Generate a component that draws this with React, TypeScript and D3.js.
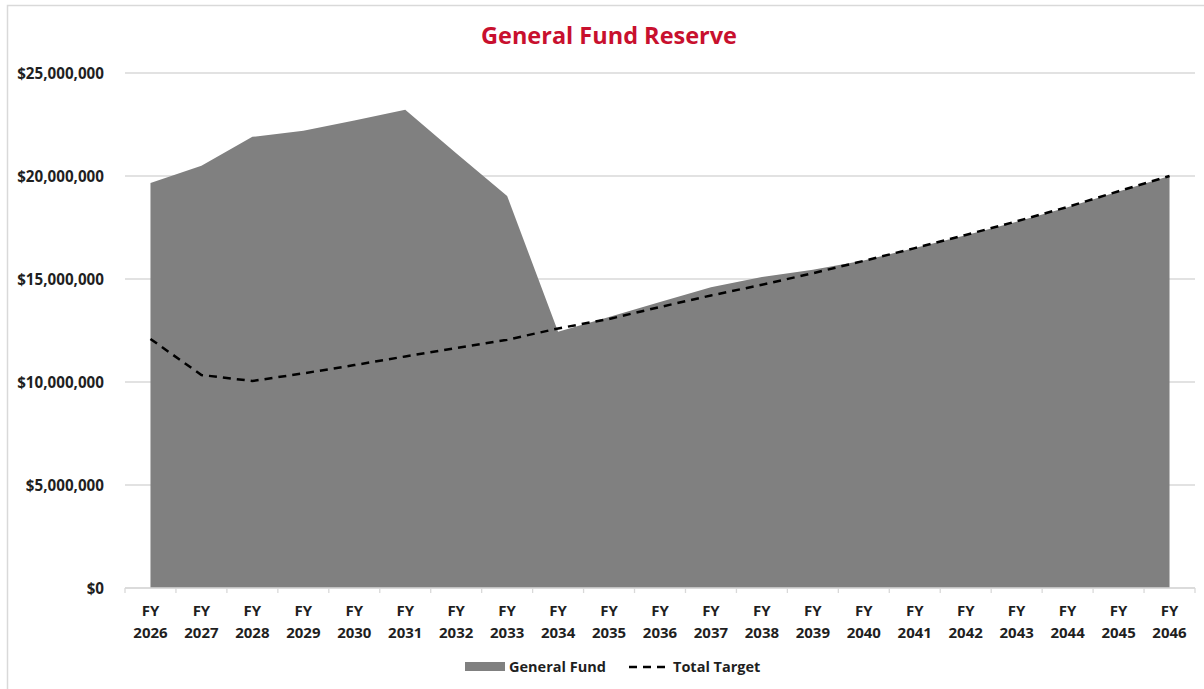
import React from "react";
import * as d3 from "d3";

const years = [
  "2026", "2027", "2028", "2029", "2030", "2031", "2032", "2033", "2034", "2035", "2036",
  "2037", "2038", "2039", "2040", "2041", "2042", "2043", "2044", "2045", "2046",
];
const generalFund = [
  19.66, 20.5, 21.9, 22.2, 22.7, 23.22, 21.1, 19.03, 12.44, 13.15, 13.88,
  14.6, 15.1, 15.45, 15.9, 16.5, 17.12, 17.78, 18.48, 19.25, 20.0,
].map((v) => v * 1e6);
const totalTarget = [
  12.09, 10.34, 10.05, 10.42, 10.82, 11.24, 11.65, 12.05, 12.6, 13.06, 13.64,
  14.2, 14.72, 15.28, 15.88, 16.5, 17.14, 17.8, 18.5, 19.26, 20.0,
].map((v) => v * 1e6);
const yTicks = [0, 5e6, 10e6, 15e6, 20e6, 25e6];

const FONT = "'Open Sans', 'Noto Sans', sans-serif";

export default function App() {
  const W = 1204;
  const H = 689;
  const x = d3.scaleBand<string>().domain(years).range([125, 1195]).padding(0);
  const y = d3.scaleLinear().domain([0, 25e6]).range([588, 73]);
  const cx = (d: string) => (x(d) as number) + x.bandwidth() / 2;
  const fmt = (v: number) => "$" + d3.format(",")(v);

  const area = d3
    .area<number>()
    .x((_, i) => cx(years[i]))
    .y0(y(0))
    .y1((d) => y(d));
  const line = d3
    .line<number>()
    .x((_, i) => cx(years[i]))
    .y((d) => y(d));

  const boundaries = [...years.map((d) => x(d) as number), 1195];

  return (
    <svg
      width={W}
      height={H}
      style={{ position: "absolute", left: 0, top: 0, background: "#fff" }}
    >
      <rect x={7.5} y={5.5} width={W} height={H} fill="#fff" stroke="#d9d9d9" strokeWidth={1.5} />
      <text
        x={609}
        y={44}
        textAnchor="middle"
        fontFamily={FONT}
        fontWeight={700}
        fontSize={23.5}
        fill="#C8102E"
      >
        General Fund Reserve
      </text>
      {yTicks.map((t) => (
        <g key={t}>
          <line x1={125} x2={1195} y1={y(t)} y2={y(t)} stroke="#d9d9d9" strokeWidth={1.3} />
          <text
            x={104}
            y={y(t) + 5.5}
            textAnchor="end"
            fontFamily={FONT}
            fontWeight={700}
            fontSize={15.2}
            fill="#1f1f1f"
          >
            {fmt(t)}
          </text>
        </g>
      ))}
      <path d={area(generalFund) || ""} fill="#808080" />
      <path
        d={line(totalTarget) || ""}
        fill="none"
        stroke="#000"
        strokeWidth={2.5}
        strokeDasharray="8 6"
      />
      <line x1={125} x2={1195} y1={y(0)} y2={y(0)} stroke="#d9d9d9" strokeWidth={1.3} />
      {boundaries.map((b, i) => (
        <line key={i} x1={b} x2={b} y1={y(0)} y2={y(0) + 5} stroke="#d9d9d9" strokeWidth={1.3} />
      ))}
      {years.map((d) => (
        <text
          key={d}
          x={cx(d)}
          textAnchor="middle"
          fontFamily={FONT}
          fontWeight={700}
          fontSize={15}
          fill="#1f1f1f"
        >
          <tspan x={cx(d)} y={616}>FY</tspan>
          <tspan x={cx(d)} y={638}>{d}</tspan>
        </text>
      ))}
      <g>
        <rect x={465} y={662} width={40} height={9} fill="#808080" />
        <text x={509} y={672} fontFamily={FONT} fontWeight={700} fontSize={14.5} fill="#1f1f1f">
          General Fund
        </text>
        <line
          x1={629}
          x2={669}
          y1={667}
          y2={667}
          stroke="#000"
          strokeWidth={2.5}
          strokeDasharray="8 6"
        />
        <text x={673} y={672} fontFamily={FONT} fontWeight={700} fontSize={14.5} fill="#1f1f1f">
          Total Target
        </text>
      </g>
    </svg>
  );
}
